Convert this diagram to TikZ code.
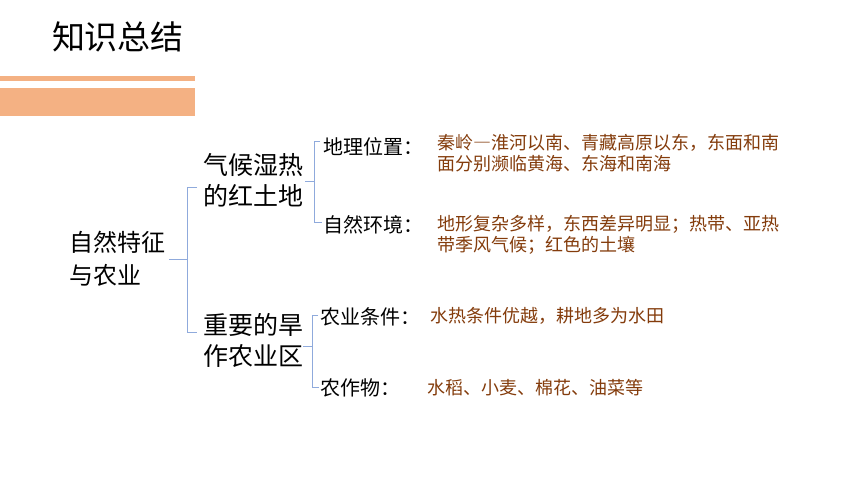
\documentclass[tikz,border=0pt]{standalone}
\usepackage{fontspec}
\setmainfont{Noto Sans CJK SC}
\definecolor{barc}{RGB}{244,177,131}
\definecolor{linec}{RGB}{143,170,220}
\definecolor{brownc}{RGB}{132,60,12}
\newcommand{\fwdash}{{\addfontfeature{RawFeature=+fwid}—}}
\tikzset{
  lvl/.style={inner sep=0pt,anchor=west,align=left},
  rootf/.style={lvl,font=\fontsize{24}{33}\selectfont},
  midf/.style={lvl,font=\fontsize{25}{31}\selectfont},
  labf/.style={lvl,font=\fontsize{20}{24}\selectfont},
  detf/.style={lvl,text=brownc,font=\fontsize{18}{21}\selectfont},
  brk/.style={draw=linec,line width=0.8pt},
}
\begin{document}
\begin{tikzpicture}[x=1pt,y=-1pt]
\useasboundingbox (0,0) rectangle (860,484);
\fill[white] (0,0) rectangle (860,484);
% title and bars
\node[inner sep=0pt,font=\fontsize{33}{36}\selectfont] (title) at (118,37) {知识总结};
\fill[barc] (0,76) rectangle (195,81);
\fill[barc] (0,88) rectangle (195,116);
% nodes
\node[rootf] (root) at (69,259) {自然特征\\与农业};
\node[midf] (c1) at (203,180) {气候湿热\\的红土地};
\node[midf] (c2) at (203,340) {重要的旱\\作农业区};
\node[labf] (l1) at (323,147) {地理位置：};
\node[labf] (l2) at (323,225) {自然环境：};
\node[labf] (l3) at (320,317) {农业条件：};
\node[labf] (l4) at (320,388) {农作物：};
\node[detf] (d1) at (437,153) {秦岭\fwdash 淮河以南、青藏高原以东，东面和南\\面分别濒临黄海、东海和南海};
\node[detf] (d2) at (437,235) {地形复杂多样，东西差异明显；热带、亚热\\带季风气候；红色的土壤};
\node[detf] (d3) at (430,316) {水热条件优越，耕地多为水田};
\node[detf] (d4) at (427,388) {水稻、小麦、棉花、油菜等};
% bracket 1
\coordinate (b1m) at (187,259);
\coordinate (b1t) at (187,187);
\coordinate (b1b) at (187,332);
\draw[brk] (root.east |- b1m) ++(4,0) -- (b1m);
\draw[brk] (c1.west |- b1t) ++(-6,0) -- (b1t) -- (b1b) -- ++(10,0);
% bracket 2
\coordinate (b2m) at (314,181);
\coordinate (b2t) at (314,141);
\coordinate (b2b) at (314,222);
\draw[brk] (c1.east |- b2m) ++(2,0) -- (b2m);
\draw[brk] (l1.west |- b2t) ++(-3,0) -- (b2t) -- (b2b) -- ++(8,0);
% bracket 3
\coordinate (b3m) at (312,346);
\coordinate (b3t) at (312,315);
\coordinate (b3b) at (312,387);
\draw[brk] (c2.east |- b3m) -- (b3m);
\draw[brk] (l3.west |- b3t) ++(-2,0) -- (b3t) -- (b3b) -- ++(7,0);
\end{tikzpicture}
\end{document}
